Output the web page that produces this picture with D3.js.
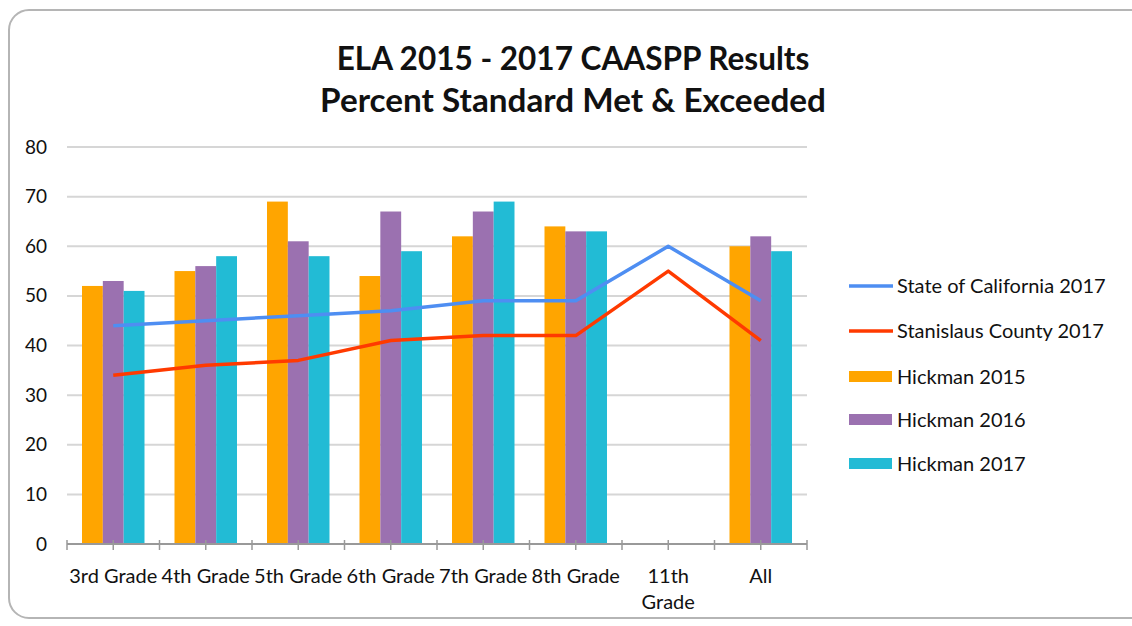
<!DOCTYPE html>
<html>
<head>
<meta charset="utf-8">
<script src="https://cdn.jsdelivr.net/npm/d3@7"></script>
<style>
  body { margin: 0; background: #fff; }
  text { font-family: Lato, "Open Sans", sans-serif; fill: #111; }
</style>
</head>
<body>
<div id="chart"></div>
<script>
// data
var grades = ["3rd Grade", "4th Grade", "5th Grade", "6th Grade", "7th Grade", "8th Grade", "11th Grade", "All"];
var hickman2015 = [52, 55, 69, 54, 62, 64, null, 60];
var hickman2016 = [53, 56, 61, 67, 67, 63, null, 62];
var hickman2017 = [51, 58, 58, 59, 69, 63, null, 59];
var stateCA = [44, 45, 46, 47, 49, 49, 60, 49];
var stanislaus = [34, 36, 37, 41, 42, 42, 55, 41];
var yTicks = [0, 10, 20, 30, 40, 50, 60, 70, 80];

var barSeries = [
  {name: "Hickman 2015", values: hickman2015, color: "#FFA500"},
  {name: "Hickman 2016", values: hickman2016, color: "#9B71B0"},
  {name: "Hickman 2017", values: hickman2017, color: "#22BBD5"}
];
var lineSeries = [
  {name: "State of California 2017", values: stateCA, color: "#4E8EF2"},
  {name: "Stanislaus County 2017", values: stanislaus, color: "#FF3A00"}
];

var W = 1132, H = 626;
var margin = {top: 147, right: 325, bottom: 82, left: 67};
var width = W - margin.left - margin.right;
var height = H - margin.top - margin.bottom;

var svg = d3.select("#chart").append("svg")
  .attr("width", W)
  .attr("height", H);

// rounded chart frame
svg.append("rect")
  .attr("x", 9).attr("y", 10)
  .attr("width", W + 20).attr("height", 608)
  .attr("rx", 20)
  .attr("fill", "#fff")
  .attr("stroke", "#b5b5b5")
  .attr("stroke-width", 2);

// title, fitted to the width it has in the picture
var titles = [
  {text: "ELA 2015 - 2017 CAASPP Results", y: 70, w: 473},
  {text: "Percent Standard Met & Exceeded", y: 112, w: 506}
];
titles.forEach(function(t) {
  var tt = svg.append("text")
    .attr("x", 573).attr("y", t.y)
    .attr("text-anchor", "middle")
    .style("font-weight", "bold")
    .style("font-size", "28px")
    .text(t.text);
  var len = tt.node().getComputedTextLength();
  tt.style("font-size", (28 * t.w / len) + "px");
});

var g = svg.append("g")
  .attr("transform", "translate(" + margin.left + "," + margin.top + ")");

var x = d3.scaleBand()
  .domain(grades)
  .range([0, width])
  .paddingInner(0)
  .paddingOuter(0);

var x1 = d3.scaleBand()
  .domain(barSeries.map(function(d) { return d.name; }))
  .range([15, x.bandwidth() - 15])
  .padding(0);

var y = d3.scaleLinear()
  .domain([0, 80])
  .range([height, 0]);

// gridlines
g.append("g")
  .selectAll("line")
  .data(yTicks.filter(function(d) { return d > 0; }))
  .enter().append("line")
    .attr("x1", 0).attr("x2", width)
    .attr("y1", function(d) { return y(d); })
    .attr("y2", function(d) { return y(d); })
    .attr("stroke", "#d6d6d6")
    .attr("stroke-width", 2);

// y axis labels
var yAxis = g.append("g")
  .call(d3.axisLeft(y).tickValues(yTicks).tickSize(0).tickPadding(20));
yAxis.select(".domain").remove();
yAxis.selectAll("text")
  .style("font-size", "19px")
  .style("font-family", "Lato, sans-serif")
  .attr("fill", "#111");

// bars
barSeries.forEach(function(s) {
  g.append("g")
    .selectAll("rect")
    .data(s.values.map(function(v, i) { return {grade: grades[i], value: v}; })
      .filter(function(d) { return d.value != null; }))
    .enter().append("rect")
      .attr("x", function(d) { return x(d.grade) + x1(s.name); })
      .attr("width", x1.bandwidth())
      .attr("y", function(d) { return y(d.value); })
      .attr("height", function(d) { return height - y(d.value); })
      .attr("fill", s.color);
});

// x axis: ticks at band edges and centres
var xa = g.append("g").attr("transform", "translate(0," + height + ")");
xa.append("line")
  .attr("x1", 0).attr("x2", width)
  .attr("stroke", "#999").attr("stroke-width", 2);
var halfTicks = [];
grades.forEach(function(gr) {
  halfTicks.push(x(gr));
  halfTicks.push(x(gr) + x.bandwidth() / 2);
});
halfTicks.push(width);
xa.selectAll(".tk")
  .data(halfTicks)
  .enter().append("line")
    .attr("class", "tk")
    .attr("x1", function(d) { return d; })
    .attr("x2", function(d) { return d; })
    .attr("y1", -4).attr("y2", 6)
    .attr("stroke", "#999").attr("stroke-width", 1.5);

xa.selectAll(".lbl")
  .data(grades)
  .enter().append("text")
    .attr("class", "lbl")
    .attr("text-anchor", "middle")
    .attr("x", function(d) { return x(d) + x.bandwidth() / 2; })
    .attr("y", 39)
    .style("font-size", "20px")
    .each(function(d) {
      var t = d3.select(this);
      if (d === "11th Grade") {
        t.append("tspan").attr("x", t.attr("x")).text("11th");
        t.append("tspan").attr("x", t.attr("x")).attr("dy", 26).text("Grade");
      } else {
        t.text(d);
      }
    });

// lines
var line = d3.line()
  .x(function(d, i) { return x(grades[i]) + x.bandwidth() / 2; })
  .y(function(d) { return y(d); });

lineSeries.forEach(function(s) {
  g.append("path")
    .datum(s.values)
    .attr("d", line)
    .attr("fill", "none")
    .attr("stroke", s.color)
    .attr("stroke-width", 3.5)
    .attr("stroke-linejoin", "round");
});

// legend
var legend = svg.append("g").attr("transform", "translate(849,0)");
var legendItems = lineSeries.map(function(s) { return {name: s.name, color: s.color, type: "line"}; })
  .concat(barSeries.map(function(s) { return {name: s.name, color: s.color, type: "bar"}; }));
var legendY = [286, 331, 377, 420, 464];

legendItems.forEach(function(d, i) {
  var row = legend.append("g").attr("transform", "translate(0," + legendY[i] + ")");
  if (d.type === "line") {
    row.append("line")
      .attr("x1", 0).attr("x2", 44)
      .attr("stroke", d.color).attr("stroke-width", 3.5);
  } else {
    row.append("rect")
      .attr("x", 0).attr("y", -6)
      .attr("width", 43).attr("height", 11)
      .attr("fill", d.color);
  }
  row.append("text")
    .attr("x", 48)
    .attr("dy", "0.35em")
    .style("font-size", "20px")
    .text(d.name);
});
</script>
</body>
</html>
